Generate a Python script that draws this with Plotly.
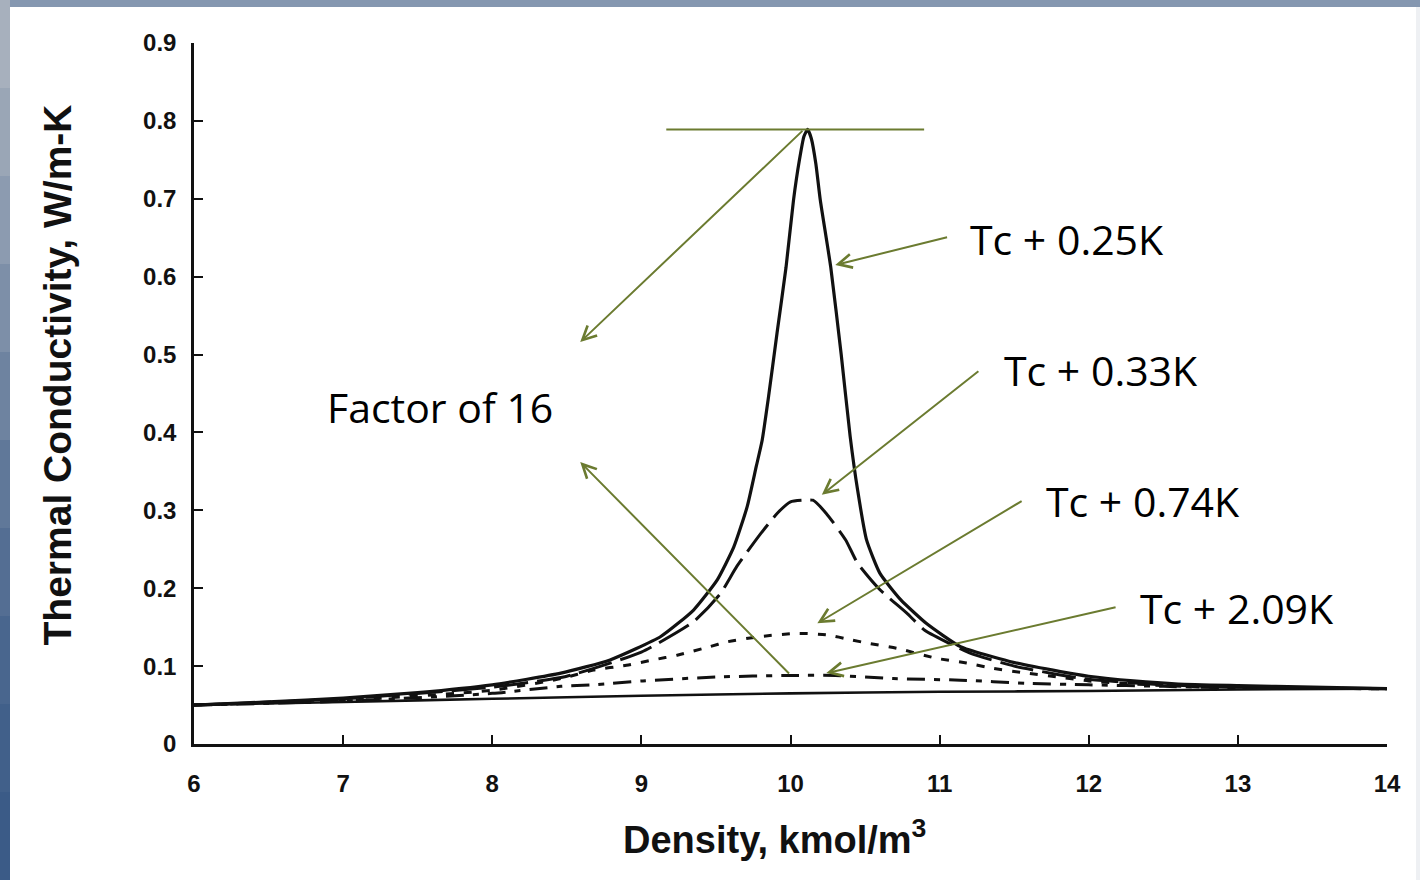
import plotly.graph_objects as go

# ---------------- data ----------------
dens_025 = [6.0, 6.5, 7.0, 7.5, 8.0, 8.46, 8.79, 9.13, 9.35, 9.51, 9.62, 9.71, 9.77,
            9.81, 9.85, 9.91, 9.97, 10.02, 10.06, 10.09, 10.115, 10.14, 10.17, 10.20,
            10.27, 10.34, 10.40, 10.45, 10.51, 10.60, 10.74, 10.91, 11.14,
            11.47, 11.81, 12.0, 12.3, 12.6, 13.0, 13.5, 14.0]
k_025 = [0.050, 0.054, 0.059, 0.066, 0.076, 0.091, 0.108, 0.138, 0.172, 0.211, 0.253,
         0.305, 0.356, 0.390, 0.442, 0.528, 0.612, 0.698, 0.750, 0.780, 0.789, 0.777,
         0.745, 0.698, 0.612, 0.500, 0.395, 0.326, 0.262, 0.219, 0.185, 0.155,
         0.125, 0.106, 0.093, 0.087, 0.081, 0.077, 0.075, 0.073, 0.071]

dens_033 = [6.0, 7.0, 8.0, 8.5, 9.0, 9.35, 9.53, 9.64, 9.80, 9.91, 10.0, 10.08, 10.15,
            10.24, 10.37, 10.45, 10.60, 10.78, 10.90, 11.2, 11.5, 11.8, 12.0, 12.5,
            13.0, 14.0]
k_033 = [0.050, 0.058, 0.073, 0.087, 0.118, 0.157, 0.193, 0.228, 0.270, 0.296, 0.311,
         0.313, 0.313, 0.296, 0.262, 0.232, 0.198, 0.168, 0.146, 0.117, 0.100, 0.089,
         0.083, 0.076, 0.073, 0.071]

dens_074 = [6.0, 7.0, 8.0, 8.46, 8.68, 8.90, 9.08, 9.24, 9.46, 9.57, 9.8, 10.05, 10.25,
            10.40, 10.53, 10.71, 10.98, 11.18, 11.36, 11.58, 11.8, 12.0, 12.5, 13.0, 14.0]
k_074 = [0.050, 0.056, 0.069, 0.084, 0.095, 0.101, 0.108, 0.114, 0.125, 0.131, 0.138,
         0.142, 0.140, 0.134, 0.129, 0.123, 0.110, 0.104, 0.097, 0.091, 0.086, 0.081,
         0.075, 0.072, 0.071]

dens_209 = [6.0, 7.0, 8.0, 8.46, 8.68, 9.01, 9.5, 10.0, 10.3, 10.69, 11.14, 11.58,
            12.0, 12.5, 13.0, 14.0]
k_209 = [0.050, 0.055, 0.065, 0.074, 0.076, 0.081, 0.086, 0.088, 0.088, 0.084, 0.082,
         0.078, 0.076, 0.074, 0.072, 0.071]

dens_base = [6.0, 7.0, 8.0, 9.0, 10.0, 11.0, 12.0, 13.0, 14.0]
k_base = [0.050, 0.054, 0.058, 0.062, 0.065, 0.067, 0.068, 0.070, 0.071]

x_ticks = [6, 7, 8, 9, 10, 11, 12, 13, 14]
y_ticks = [0, 0.1, 0.2, 0.3, 0.4, 0.5, 0.6, 0.7, 0.8, 0.9]
y_ticktext = ["0", "0.1", "0.2", "0.3", "0.4", "0.5", "0.6", "0.7", "0.8", "0.9"]

x_title = "Density, kmol/m<sup>3</sup>"
y_title = "Thermal Conductivity, W/m-K"

labels = ["Tc + 0.25K", "Tc + 0.33K", "Tc + 0.74K", "Tc + 2.09K"]
label_pos = [(11.19, 0.648), (11.42, 0.480), (11.70, 0.312), (12.33, 0.174)]
arrow_tail = [(11.06, 0.651), (11.27, 0.480), (11.56, 0.313), (12.19, 0.176)]
arrow_tip = [(10.30, 0.615), (10.21, 0.320), (10.18, 0.155), (10.24, 0.091)]

factor_text = "Factor of 16"
factor_pos = (6.88, 0.433)
factor_arrows = [((10.09, 0.789), (8.59, 0.516)), ((10.0, 0.0886), (8.59, 0.362))]
peak_line = (9.167, 10.896, 0.789)

# ---------------- figure ----------------
GREEN = "#6b7b30"
BLACK = "#111111"
L, R, T, B = 194, 33, 43, 136
PW, PH = 1420 - L - R, 880 - T - B


def px(xp):
    return (xp - L) / PW


def py(yp):
    return (880 - B - yp) / PH


fig = go.Figure()
fig.add_trace(go.Scatter(x=dens_base, y=k_base, mode="lines", name="background",
                         line=dict(color=BLACK, width=2.6, shape="spline", smoothing=0.6)))
fig.add_trace(go.Scatter(x=dens_209, y=k_209, mode="lines", name=labels[3],
                         line=dict(color=BLACK, width=3, dash="18px,9px,6px,9px",
                                   shape="spline", smoothing=0.6)))
fig.add_trace(go.Scatter(x=dens_074, y=k_074, mode="lines", name=labels[2],
                         line=dict(color=BLACK, width=3, dash="8px,10px",
                                   shape="spline", smoothing=0.6)))
fig.add_trace(go.Scatter(x=dens_033, y=k_033, mode="lines", name=labels[1],
                         line=dict(color=BLACK, width=3, dash="34px,9px",
                                   shape="spline", smoothing=0.5)))
fig.add_trace(go.Scatter(x=dens_025, y=k_025, mode="lines", name=labels[0],
                         line=dict(color=BLACK, width=3.2, shape="spline", smoothing=0.5)))

ARROW = dict(showarrow=True, arrowhead=5, arrowsize=1.35, arrowwidth=2,
             arrowcolor=GREEN, text="")
TXT = dict(family="Open Sans", size=41, color="#000000")
TITLE = dict(family="Liberation Sans, Arial", color="#111111", weight="bold")
annotations = []
for txt, (lx, ly), (tx, ty), (hx, hy) in zip(labels, label_pos, arrow_tail, arrow_tip):
    annotations.append(dict(x=lx, y=ly, xref="x", yref="y", text=txt, showarrow=False,
                            xanchor="left", yanchor="middle", font=TXT))
    annotations.append(dict(x=hx, y=hy, ax=tx, ay=ty, xref="x", yref="y", axref="x",
                            ayref="y", **ARROW))
annotations.append(dict(x=factor_pos[0], y=factor_pos[1], xref="x", yref="y",
                        text=factor_text, showarrow=False, xanchor="left",
                        yanchor="middle", font=TXT))
for (tail, tip) in factor_arrows:
    annotations.append(dict(x=tip[0], y=tip[1], ax=tail[0], ay=tail[1], xref="x",
                            yref="y", axref="x", ayref="y", **ARROW))
# axis titles
annotations.append(dict(x=px(774), y=py(837), xref="paper", yref="paper",
                        text=x_title, showarrow=False, xanchor="center",
                        yanchor="middle", font=dict(size=38, **TITLE)))
annotations.append(dict(x=px(33), y=py(375), xref="paper", yref="paper",
                        text=y_title, showarrow=False, xanchor="left",
                        yanchor="middle", textangle=-90, font=dict(size=39, **TITLE)))

# slide-like background: white panel on blue-grey frame
shapes = [dict(type="rect", xref="paper", yref="paper", layer="below",
               x0=px(10), x1=px(1420), y0=py(880), y1=py(7),
               fillcolor="white", line=dict(width=0)),
          dict(type="rect", xref="paper", yref="paper", layer="below",
               x0=px(1416), x1=px(1420), y0=py(880), y1=py(7),
               fillcolor="#eef0f3", line=dict(width=0))]
strip_cols = ["#a7b0bd", "#9aa6b6", "#8c9bb0", "#7d8fa8", "#6e83a0", "#607899",
              "#546e93", "#49668e", "#41608a", "#3b5b87"]
n = len(strip_cols)
for i, c in enumerate(strip_cols):
    shapes.append(dict(type="rect", xref="paper", yref="paper", layer="below",
                       x0=px(0), x1=px(10), y0=py(880 * (i + 1) / n),
                       y1=py(880 * i / n), fillcolor=c, line=dict(width=0)))
shapes.append(dict(type="line", xref="x", yref="y", x0=peak_line[0], x1=peak_line[1],
                   y0=peak_line[2], y1=peak_line[2], line=dict(color=GREEN, width=2)))

tick_font = dict(family="Liberation Sans, Arial", size=24, color="#111111", weight="bold")
fig.update_layout(
    width=1420, height=880,
    margin=dict(l=L, r=R, t=T, b=B),
    paper_bgcolor="#8597b0",
    plot_bgcolor="white",
    showlegend=False,
    annotations=annotations,
    shapes=shapes,
    xaxis=dict(range=[6, 14], tickvals=x_ticks, ticks="inside", ticklen=9, tickwidth=2,
               tickcolor=BLACK, showline=True, linecolor=BLACK, linewidth=2.5,
               showgrid=False, zeroline=False, tickfont=tick_font,
               ticklabelstandoff=16),
    yaxis=dict(range=[0, 0.9], tickvals=y_ticks, ticktext=y_ticktext, ticks="inside",
               ticklen=9, tickwidth=2, tickcolor=BLACK, showline=True, linecolor=BLACK,
               linewidth=2.5, showgrid=False, zeroline=False, tickfont=tick_font,
               ticklabelstandoff=10),
)

fig.write_html("out.html", config={"displayModeBar": False},
               post_script="document.body.style.margin='0px';"
                           "document.body.style.overflow='hidden';")
